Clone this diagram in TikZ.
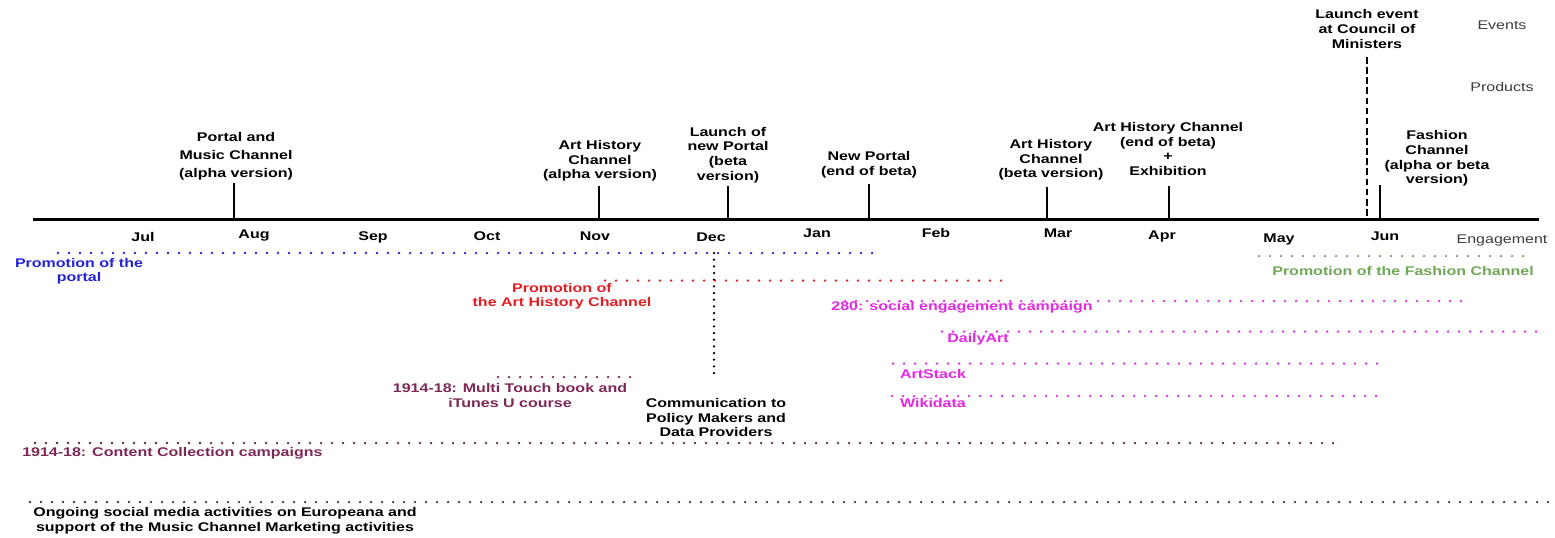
\documentclass[tikz,border=0pt]{standalone}
\usepackage{fontspec}
\setmainfont{Liberation Sans}[FakeStretch=1.27]
\definecolor{cblue}{RGB}{35,35,215}
\definecolor{cred}{RGB}{228,30,35}
\definecolor{cmag}{RGB}{228,40,228}
\definecolor{cmaroon}{RGB}{125,40,85}
\definecolor{cgreen}{RGB}{112,168,85}
\definecolor{cgray}{RGB}{60,60,60}
\begin{document}
\begin{tikzpicture}[x=0.75pt,y=-0.75pt,
  lbl/.style={font=\bfseries\fontsize{9.45pt}{10.9pt}\selectfont, align=center, inner sep=0pt},
  wide/.style={font=\bfseries\fontsize{9.45pt}{13.5pt}\selectfont},
  side/.style={font=\fontsize{9.45pt}{10.9pt}\selectfont, text=cgray, inner sep=0pt},
  axis/.style={line width=2.5pt},
  tick/.style={line width=2pt},
  dots/.style={line width=1.9pt, line cap=round, dash pattern=on 0pt off 8.25pt},
  vdots/.style={line width=1.9pt, line cap=round, dash pattern=on 0pt off 5pt},
  dashline/.style={line width=1.8pt, dash pattern=on 5pt off 2.6pt}]
\useasboundingbox (0,0) rectangle (1555,537);

% timeline
\coordinate (axL) at (33,219.5);
\coordinate (axR) at (1539,219.5);
\draw[axis] (axL) -- (axR);

% months
\node[lbl] (jul) at (143,237) {Jul};
\node[lbl] (aug) at (254,235) {Aug};
\node[lbl] (sep) at (373,237) {Sep};
\node[lbl] (oct) at (487,236) {Oct};
\node[lbl] (nov) at (595,236) {Nov};
\node[lbl] (dec) at (711,237) {Dec};
\node[lbl] (jan) at (817,233) {Jan};
\node[lbl] (feb) at (936,233) {Feb};
\node[lbl] (mar) at (1058,233) {Mar};
\node[lbl] (apr) at (1162,236) {Apr};
\node[lbl] (may) at (1279,239) {May};
\node[lbl] (jun) at (1385,236) {Jun};

% side headings
\node[side] (events) at (1502,25) {Events};
\node[side] (products) at (1502,87) {Products};
\node[side] (engage) at (1502,240) {Engagement};

% products
\node[lbl,wide] (p1) at (236,156) {Portal and\\Music Channel\\(alpha version)};
\node[lbl] (p2) at (600,161) {Art History\\Channel\\(alpha version)};
\node[lbl] (p3) at (728,155) {Launch of\\new Portal\\(beta\\version)};
\node[lbl] (p4) at (869,164.5) {New Portal\\(end of beta)};
\node[lbl] (p5) at (1051,160) {Art History\\Channel\\(beta version)};
\node[lbl] (p6) at (1168,149) {Art History Channel\\(end of beta)\\+\\Exhibition};
\node[lbl] (p7) at (1437,158.5) {Fashion\\Channel\\(alpha or beta\\version)};
\node[lbl] (ev) at (1367,29) {Launch event\\at Council of\\Ministers};

% ticks
\coordinate (t1) at (234,183);   \coordinate (t1b) at (234,219.5);
\coordinate (t2) at (599,186);   \coordinate (t2b) at (599,219.5);
\coordinate (t3) at (728,186);   \coordinate (t3b) at (728,219.5);
\coordinate (t4) at (869,184);   \coordinate (t4b) at (869,219.5);
\coordinate (t5) at (1047,187);  \coordinate (t5b) at (1047,219.5);
\coordinate (t6) at (1169,186);  \coordinate (t6b) at (1169,219.5);
\coordinate (t7) at (1380,185);  \coordinate (t7b) at (1380,219.5);
\draw[tick] (t1) -- (t1b);
\draw[tick] (t2) -- (t2b);
\draw[tick] (t3) -- (t3b);
\draw[tick] (t4) -- (t4b);
\draw[tick] (t5) -- (t5b);
\draw[tick] (t6) -- (t6b);
\draw[tick] (t7) -- (t7b);
\coordinate (d1) at (1367,57); \coordinate (d2) at (1367,216);
\draw[dashline] (d1) -- (d2);

% engagement lines
\coordinate (b1) at (58,253);   \coordinate (b2) at (872,253);
\draw[dots,cblue] (b1) -- (b2);
\node[lbl,text=cblue] (lb) at (79,271) {Promotion of the\\portal};

\coordinate (v1) at (714,253);  \coordinate (v2) at (714,376);
\draw[vdots,black] (v1) -- (v2);
\node[lbl] (comm) at (716,417.5) {Communication to\\Policy Makers and\\Data Providers};

\coordinate (r1) at (605,280.5); \coordinate (r2) at (1006,280.5);
\draw[dots,cred] (r1) -- (r2);
\node[lbl,text=cred] (lr) at (562,296) {Promotion of\\the Art History Channel};

\coordinate (m1) at (845,301);  \coordinate (m2) at (1467,301);
\draw[dots,cmag] (m1) -- (m2);
\node[lbl,text=cmag] (lm1) at (962,307.5) {280: social engagement campaign};

\coordinate (m3) at (942,331.5); \coordinate (m4) at (1543,331.5);
\draw[dots,cmag] (m3) -- (m4);
\node[lbl,text=cmag] (lm2) at (978,339) {DailyArt};

\coordinate (m5) at (893,363.5); \coordinate (m6) at (1383,363.5);
\draw[dots,cmag] (m5) -- (m6);
\node[lbl,text=cmag] (lm3) at (933,374) {ArtStack};

\coordinate (m7) at (892,396); \coordinate (m8) at (1382,396);
\draw[dots,cmag] (m7) -- (m8);
\node[lbl,text=cmag] (lm4) at (933,403) {Wikidata};

\coordinate (g1) at (1259,256); \coordinate (g2) at (1528,256);
\draw[dots,cgreen] (g1) -- (g2);
\node[lbl,text=cgreen] (lg) at (1403,271) {Promotion of the Fashion Channel};

\coordinate (k1) at (498,377); \coordinate (k2) at (633,377);
\draw[dots,cmaroon] (k1) -- (k2);
\node[lbl,text=cmaroon] (lk) at (510,395.5) {1914-18: Multi Touch book and\\iTunes U course};

\coordinate (c1) at (35,443); \coordinate (c2) at (1342,443);
\draw[dots,cmaroon!80!black] (c1) -- (c2);
\node[lbl,text=cmaroon,anchor=west] (lc) at (22,453) {1914-18: Content Collection campaigns};

\coordinate (o1) at (30,502); \coordinate (o2) at (1550,502);
\draw[dots,cgray] (o1) -- (o2);
\node[lbl] (lo) at (225,520.5) {Ongoing social media activities on Europeana and\\support of the Music Channel Marketing activities};
\end{tikzpicture}
\end{document}
